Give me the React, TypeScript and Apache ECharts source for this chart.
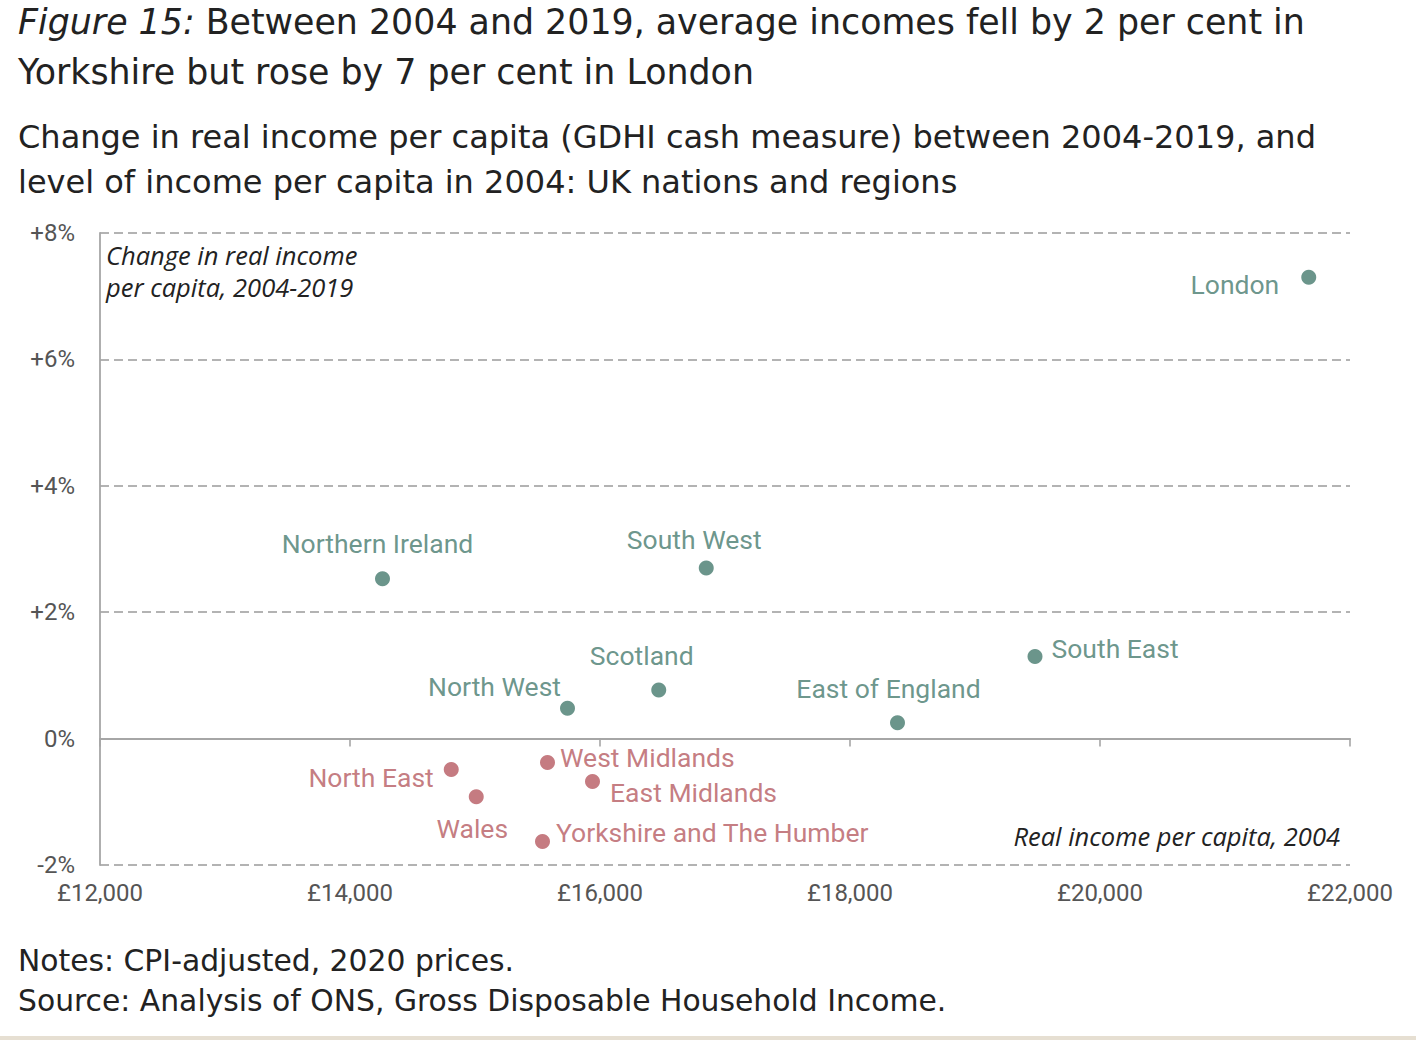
import React, { useEffect, useRef } from 'react';
import * as echarts from 'echarts';

const regions = [
  'London',
  'Northern Ireland',
  'South West',
  'South East',
  'Scotland',
  'North West',
  'East of England',
  'North East',
  'Wales',
  'West Midlands',
  'East Midlands',
  'Yorkshire and The Humber',
];
// Real income per capita, 2004 (£)
const income2004 = [21670, 14260, 16850, 19480, 16470, 15740, 18380, 14810, 15010, 15580, 15940, 15540];
// Change in real income per capita, 2004-2019 (%)
const incomeChange = [7.3, 2.53, 2.7, 1.3, 0.77, 0.48, 0.25, -0.49, -0.92, -0.38, -0.68, -1.63];

const xMin = 12000;
const xMax = 22000;
const xStep = 2000;
const yMin = -2;
const yMax = 8;
const yStep = 2;

const titleLines = [
  'Between 2004 and 2019, average incomes fell by 2 per cent in',
  'Yorkshire but rose by 7 per cent in London',
];
const subtitleLines = [
  'Change in real income per capita (GDHI cash measure) between 2004-2019, and',
  'level of income per capita in 2004: UK nations and regions',
];
const noteLines = ['Notes: CPI-adjusted, 2020 prices.', 'Source: Analysis of ONS, Gross Disposable Household Income.'];
const yAxisTitle = 'Change in real income\nper capita, 2004-2019';
const xAxisTitle = 'Real income per capita, 2004';

// label placement per region: [position, dx, dy]
const labelLayout: [string, number, number][] = [
  ['left', -17, 7],
  ['top', -5, -9],
  ['top', -12, -2],
  ['right', 4, -8],
  ['top', -17, -8],
  ['left', 6, -22],
  ['top', -9, -8],
  ['left', -5, 8],
  ['bottom', -4, 6],
  ['right', 0, -5],
  ['right', 5, 11],
  ['right', 1, -9],
];

const GREEN = '#467a6e';
const RED = '#b65a61';
const FONT = 'Roboto, "Noto Sans", sans-serif';
const TITLE_FONT = '"DejaVu Sans", Roboto, sans-serif';
const ITALIC_FONT = '"Open Sans", Lato, sans-serif';

export default function App() {
  const ref = useRef<HTMLDivElement>(null);

  useEffect(() => {
    document.body.style.margin = '0';
    if (!ref.current) return;
    const chart = echarts.init(ref.current, undefined, { renderer: 'svg' });

    const data = regions.map((name, i) => {
      const color = incomeChange[i] >= 0 ? GREEN : RED;
      const [pos, dx, dy] = labelLayout[i];
      return {
        name,
        value: [income2004[i], incomeChange[i]],
        itemStyle: { color },
        label: {
          show: true,
          position: pos,
          distance: 5,
          offset: [dx, dy],
          color,
          formatter: '{b}',
          fontFamily: FONT,
          fontSize: 26.5,
        },
      };
    });

    const textEl = (text: string, x: number, y: number, font: string, fill: string, extra: any = {}) => ({
      type: 'text',
      x,
      y,
      silent: true,
      style: { text, font, fill, verticalAlign: 'middle', ...extra },
    });

    chart.setOption({
      animation: false,
      backgroundColor: '#ffffff',
      grid: { left: 100, right: 66, top: 233, bottom: 175, containLabel: false },
      xAxis: [
        {
          type: 'value',
          min: xMin,
          max: xMax,
          interval: xStep,
          position: 'bottom',
          axisLine: { show: false, onZero: false },
          axisTick: { show: false },
          splitLine: { show: false },
          axisLabel: {
            margin: 16,
            fontFamily: FONT,
            fontSize: 24,
            color: '#555555',
            formatter: (v: number) => '£' + v.toLocaleString('en-GB'),
          },
        },
        {
          type: 'value',
          min: xMin,
          max: xMax,
          interval: xStep,
          position: 'bottom',
          axisLine: { show: true, onZero: true, onZeroAxisIndex: 0, lineStyle: { color: '#a6a6a6', width: 2 } },
          axisTick: { show: true, length: 8, lineStyle: { color: '#a6a6a6', width: 1.6 } },
          axisLabel: { show: false },
          splitLine: { show: false },
        },
      ],
      yAxis: {
        type: 'value',
        min: yMin,
        max: yMax,
        interval: yStep,
        axisLine: { show: true, onZero: false, lineStyle: { color: '#a6a6a6', width: 1.8 } },
        axisTick: { show: false },
        splitLine: { show: true, lineStyle: { color: '#b3b3b3', width: 2, type: [9, 5] } },
        axisLabel: {
          margin: 25,
          fontFamily: FONT,
          fontSize: 24,
          color: '#555555',
          formatter: (v: number) => (v > 0 ? '+' + v + '%' : v + '%'),
        },
      },
      series: [
        {
          type: 'scatter',
          xAxisIndex: 0,
          yAxisIndex: 0,
          symbol: 'circle',
          symbolSize: 15,
          data,
          z: 5,
        },
      ],
      graphic: [
        {
          type: 'text',
          x: 18,
          y: 22,
          silent: true,
          style: {
            text: '{i|Figure 15:} ' + titleLines[0],
            font: `34.8px ${TITLE_FONT}`,
            fill: '#222222',
            verticalAlign: 'middle',
            rich: { i: { fontStyle: 'italic', fontFamily: TITLE_FONT, fontSize: 34.8, fill: '#222222' } },
          },
        },
        textEl(titleLines[1], 18, 72, `34.8px ${TITLE_FONT}`, '#222222'),
        textEl(subtitleLines[0], 18, 137, `32px ${TITLE_FONT}`, '#222222'),
        textEl(subtitleLines[1], 18, 182, `32px ${TITLE_FONT}`, '#222222'),
        textEl(yAxisTitle, 106, 271, `italic 25.5px ${ITALIC_FONT}`, '#222222', { lineHeight: 32 }),
        textEl(xAxisTitle, 1340, 836, `italic 25.5px ${ITALIC_FONT}`, '#222222', { align: 'right' }),
        textEl(noteLines[0], 18, 960, `29.8px ${TITLE_FONT}`, '#222222'),
        textEl(noteLines[1], 18, 1000, `29.8px ${TITLE_FONT}`, '#222222'),
        { type: 'rect', silent: true, shape: { x: 0, y: 1036, width: 1416, height: 4 }, style: { fill: '#e6dfd2' } },
      ],
    });

    return () => chart.dispose();
  }, []);

  return <div ref={ref} style={{ width: 1416, height: 1040 }} />;
}
